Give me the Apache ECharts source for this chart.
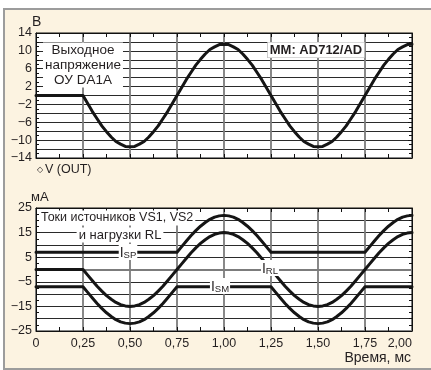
<!DOCTYPE html>
<html><head><meta charset="utf-8">
<script src="https://cdn.jsdelivr.net/npm/echarts@6/dist/echarts.min.js"></script>
<style>
html,body{margin:0;padding:0;background:#fff;width:431px;height:370px;overflow:hidden}
#frame{position:absolute;left:3px;top:8px;width:430px;height:358px;background:#fcf3e1;border-top:2px solid #9c9c9c;border-left:2px solid #9c9c9c;border-bottom:2px solid #9c9c9c}
#c{position:absolute;left:0;top:0;width:431px;height:370px}
</style></head>
<body><div id="frame"></div><div id="c"></div>
<script>
const time = [0,0.025,0.05,0.075,0.1,0.125,0.15,0.175,0.2,0.225,0.25,0.275,0.3,0.325,0.35,0.375,0.4,0.425,0.45,0.475,0.5,0.525,0.55,0.575,0.6,0.625,0.65,0.675,0.7,0.725,0.75,0.775,0.8,0.825,0.85,0.875,0.9,0.925,0.95,0.975,1,1.025,1.05,1.075,1.1,1.125,1.15,1.175,1.2,1.225,1.25,1.275,1.3,1.325,1.35,1.375,1.4,1.425,1.45,1.475,1.5,1.525,1.55,1.575,1.6,1.625,1.65,1.675,1.7,1.725,1.75,1.775,1.8,1.825,1.85,1.875,1.9,1.925,1.95,1.975,2];
const vOut = [0,0,0,0,0,0,0,0,0,0,0,
 -1.8,-3.6,-5.2,-6.8,-8.1,-9.3,-10.3,-10.9,-11.4,-11.5,
 -11.4,-10.9,-10.3,-9.3,-8.1,-6.8,-5.2,-3.6,-1.8,0,
 1.8,3.6,5.2,6.8,8.1,9.3,10.3,10.9,11.4,11.5,
 11.4,10.9,10.3,9.3,8.1,6.8,5.2,3.6,1.8,0,
 -1.8,-3.6,-5.2,-6.8,-8.1,-9.3,-10.3,-10.9,-11.4,-11.5,
 -11.4,-10.9,-10.3,-9.3,-8.1,-6.8,-5.2,-3.6,-1.8,0,
 1.8,3.6,5.2,6.8,8.1,9.3,10.3,10.9,11.4,11.5];
const iRL = [0,0,0,0,0,0,0,0,0,0,0,
 -2.3,-4.6,-6.8,-8.8,-10.6,-12.1,-13.4,-14.3,-14.8,-15,
 -14.8,-14.3,-13.4,-12.1,-10.6,-8.8,-6.8,-4.6,-2.3,0,
 2.3,4.6,6.8,8.8,10.6,12.1,13.4,14.3,14.8,15,
 14.8,14.3,13.4,12.1,10.6,8.8,6.8,4.6,2.3,0,
 -2.3,-4.6,-6.8,-8.8,-10.6,-12.1,-13.4,-14.3,-14.8,-15,
 -14.8,-14.3,-13.4,-12.1,-10.6,-8.8,-6.8,-4.6,-2.3,0,
 2.3,4.6,6.8,8.8,10.6,12.1,13.4,14.3,14.8,15];
const iSP = [7,7,7,7,7,7,7,7,7,7,7,7,7,7,7,7,7,7,7,7,7,7,7,7,7,7,7,7,7,7,7,
 9.3,11.6,13.8,15.8,17.6,19.1,20.4,21.3,21.8,22,
 21.8,21.3,20.4,19.1,17.6,15.8,13.8,11.6,9.3,7,
 7,7,7,7,7,7,7,7,7,7,7,7,7,7,7,7,7,7,7,7,
 9.3,11.6,13.8,15.8,17.6,19.1,20.4,21.3,21.8,22];
const iSM = [-7,-7,-7,-7,-7,-7,-7,-7,-7,-7,-7,
 -9.3,-11.6,-13.8,-15.8,-17.6,-19.1,-20.4,-21.3,-21.8,-22,
 -21.8,-21.3,-20.4,-19.1,-17.6,-15.8,-13.8,-11.6,-9.3,-7,
 -7,-7,-7,-7,-7,-7,-7,-7,-7,-7,-7,-7,-7,-7,-7,-7,-7,-7,-7,-7,
 -9.3,-11.6,-13.8,-15.8,-17.6,-19.1,-20.4,-21.3,-21.8,-22,
 -21.8,-21.3,-20.4,-19.1,-17.6,-15.8,-13.8,-11.6,-9.3,-7,
 -7,-7,-7,-7,-7,-7,-7,-7,-7,-7];
const xTickLabels = ['0','0,25','0,50','0,75','1,00','1,25','1,50','1,75','2,00'];
const vTickStep = 4, iTickStep = 10;

const FONT = "'Liberation Sans', Arial, sans-serif";
const TXT = '#231f20';
const chart = echarts.init(document.getElementById('c'), null, {renderer:'canvas'});
const pairs = arr => time.map((t,i)=>[t, arr[i]]);
const minus = v => String(v).replace('-', '\u2212');

function xAxisCfg(gi, pos, labels) {
  return {
    type:'value', gridIndex:gi, position:pos, min:0, max:2, interval:0.25,
    axisLine:{show:true, onZero:false, lineStyle:{color:'#111', width:1}},
    axisTick:{show:true, inside:true, length:4, lineStyle:{color:'#111'}},
    minorTick:{show:true, splitNumber:2, length:4, lineStyle:{color:'#111'}},
    splitLine:{show:pos==='bottom', lineStyle:{color:'#7c7c7c', width:1.8}},
    minorSplitLine:{show:false},
    axisLabel:{show:labels, margin:6, fontSize:12.5, color:TXT, fontFamily:FONT,
      showMinLabel:true, showMaxLabel:true, alignMaxLabel:'right',
      formatter:v=>xTickLabels[Math.round(v/0.25)]}
  };
}
function yAxisCfg(gi, pos, min, max, step, labels) {
  return {
    type:'value', gridIndex:gi, position:pos, min:min, max:max, interval:step,
    axisLine:{show:true, onZero:false, lineStyle:{color:'#111', width:1}},
    axisTick:{show:true, inside:true, length:4, lineStyle:{color:'#111'}},
    minorTick:{show:true, splitNumber:4, length:3, lineStyle:{color:'#111'}},
    splitLine:{show:false},
    minorSplitLine:{show:false},
    axisLabel:{show:labels, margin:4, fontSize:12.5, color:TXT, fontFamily:FONT,
      showMinLabel:true, showMaxLabel:true, formatter:minus}
  };
}
// horizontal grid lines every 2 V / 5 mA
function yMinorGrid(gi, min, max, step) {
  return {
    type:'value', gridIndex:gi, position:'left', min:min, max:max, interval:step,
    axisLine:{show:false, onZero:false}, axisTick:{show:false}, axisLabel:{show:false},
    splitLine:{show:true, lineStyle:{color:'#2a2a2a', width:1}}
  };
}

const lineStyle = {color:'#151515', width:3, cap:'round', join:'round'};
const mkSeries = (name, data, xi, yi, extra) => Object.assign({
  name, type:'line', xAxisIndex:xi, yAxisIndex:yi, data:pairs(data),
  showSymbol:false, smooth:false, lineStyle, z:5, silent:true, animation:false
}, extra||{});

const sub = (main, s) => ({
  text:'{i|' + main + '}{s|' + s + '}',
  rich:{
    i:{fontSize:14, fontFamily:FONT, fill:TXT, lineHeight:16, verticalAlign:'bottom'},
    s:{fontSize:9.5, fontFamily:FONT, fill:TXT, lineHeight:11, verticalAlign:'bottom'}
  },
  backgroundColor:'#fff', padding:[0,1,0,1], align:'center', verticalAlign:'middle'
});

chart.setOption({
  animation:false,
  backgroundColor:'transparent',
  textStyle:{fontFamily:FONT},
  grid:[
    {left:36, top:33, width:376, height:125, show:true, backgroundColor:'#fff', borderColor:'#111', borderWidth:1, outerBoundsMode:'none', containLabel:false},
    {left:36, top:208, width:376, height:123, show:true, backgroundColor:'#fff', borderColor:'#111', borderWidth:1, outerBoundsMode:'none', containLabel:false}
  ],
  xAxis:[
    xAxisCfg(0,'bottom',false), xAxisCfg(0,'top',false),
    xAxisCfg(1,'bottom',true), xAxisCfg(1,'top',false)
  ],
  yAxis:[
    yMinorGrid(0,-14,14,2),
    yAxisCfg(0,'left',-14,14,vTickStep,true), yAxisCfg(0,'right',-14,14,vTickStep,false),
    yMinorGrid(1,-25,25,5),
    yAxisCfg(1,'left',-25,25,iTickStep,true), yAxisCfg(1,'right',-25,25,iTickStep,false)
  ],
  series:[
    mkSeries('V (OUT)', vOut, 0, 1),
    mkSeries('I_RL', iRL, 2, 4, {markLine:{silent:true, symbol:'none', label:{show:false},
      lineStyle:{color:'#7c7c7c', width:1.8, type:'solid'}, data:[{yAxis:0}], z:3}}),
    mkSeries('I_SP', iSP, 2, 4),
    mkSeries('I_SM', iSM, 2, 4)
  ],
  graphic:[
    {type:'text', x:32, y:15, z:100, style:{text:'В', fontSize:14, fill:TXT, fontFamily:FONT}},
    {type:'text', x:31, y:191, z:100, style:{text:'мА', fontSize:13, fill:TXT, fontFamily:FONT}},
    {type:'text', x:83, y:65, z:100, style:{text:'Выходное\nнапряжение\nОУ DA1A', fontSize:13.5, lineHeight:15,
      fill:TXT, fontFamily:FONT, align:'center', verticalAlign:'middle', backgroundColor:'#fff', padding:[0,2]}},
    {type:'text', x:316, y:50, z:100, style:{text:'MM: AD712/AD', fontSize:13, fontWeight:'bold',
      fill:TXT, fontFamily:FONT, align:'center', verticalAlign:'middle', backgroundColor:'#fff',
      borderColor:'#b0b0b0', borderWidth:0.6, padding:[1,2]}},
    {type:'text', x:39, y:218, z:100, style:{text:'Токи источников VS1, VS2', fontSize:12.5,
      fill:TXT, fontFamily:FONT, align:'left', verticalAlign:'middle', backgroundColor:'#fff', padding:[1,2]}},
    {type:'text', x:120, y:235, z:100, style:{text:'и нагрузки RL', fontSize:13,
      fill:TXT, fontFamily:FONT, align:'center', verticalAlign:'middle', backgroundColor:'#fff', padding:[1,2]}},
    {type:'text', x:37, y:170, z:100, style:{text:'{d|◇}V (OUT)', rich:{d:{fontSize:8, fill:TXT, padding:[0,2,0,0]}},
      fontSize:12.5, fill:TXT, fontFamily:FONT, verticalAlign:'middle'}},
    {type:'text', x:411, y:358, z:100, style:{text:'Время, мс', fontSize:14, fill:TXT, fontFamily:FONT,
      align:'right', verticalAlign:'middle'}},
    {type:'text', x:128, y:252, z:100, style:sub('I','SP')},
    {type:'text', x:270, y:268, z:100, style:sub('I','RL')},
    {type:'text', x:220, y:286, z:100, style:sub('I','SM')}
  ]
});
</script>
</body></html>
